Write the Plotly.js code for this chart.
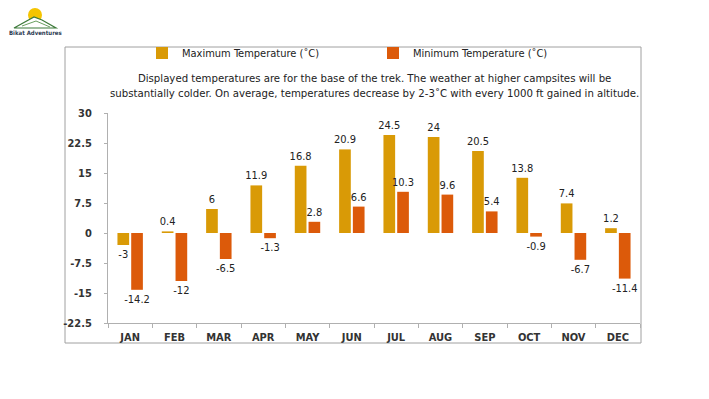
<!DOCTYPE html>
<html>
<head>
<meta charset="utf-8">
<script src="https://cdn.plot.ly/plotly-3.0.1.min.js"></script>
<style>
html,body{margin:0;padding:0;background:#fff;}
#chart{width:709px;height:399px;}
</style>
</head>
<body>
<div id="chart"></div>
<script>
var months = ["JAN","FEB","MAR","APR","MAY","JUN","JUL","AUG","SEP","OCT","NOV","DEC"];
var maxTemp = [-3, 0.4, 6, 11.9, 16.8, 20.9, 24.5, 24, 20.5, 13.8, 7.4, 1.2];
var minTemp = [-14.2, -12, -6.5, -1.3, 2.8, 6.6, 10.3, 9.6, 5.4, -0.9, -6.7, -11.4];
var seriesNames = ["Maximum Temperature (\u02daC)", "Minimum Temperature (\u02daC)"];
var yTicks = [30, 22.5, 15, 7.5, 0, -7.5, -15, -22.5];
var note = "Displayed temperatures are for the base of the trek. The weather at higher campsites will be<br>substantially colder. On average, temperatures decrease by 2-3\u02daC with every 1000 ft gained in altitude.";

var FONT = "'DejaVu Sans Condensed', 'Liberation Sans', sans-serif";

function fmt(v){ return String(v); }

var traces = [
  {type:'bar', name:seriesNames[0], x:months, y:maxTemp, legend:'legend',
   text:maxTemp.map(fmt), textposition:'outside', cliponaxis:false, constraintext:'none',
   textfont:{family:FONT, size:11, color:'#222'},
   marker:{color:'#D99A06', line:{width:0}}, hoverinfo:'x+y'},
  {type:'bar', name:seriesNames[1], x:months, y:minTemp, legend:'legend2',
   text:minTemp.map(fmt), textposition:'outside', cliponaxis:false, constraintext:'none',
   textfont:{family:FONT, size:11, color:'#222'},
   marker:{color:'#DC5A0A', line:{width:0}}, hoverinfo:'x+y'}
];

var legendFont = {family:FONT, size:11, color:'#222'};
var layout = {
  width:709, height:399,
  paper_bgcolor:'#ffffff', plot_bgcolor:'#ffffff',
  margin:{l:108, r:69, t:113, b:76, pad:0},
  font:{family:FONT, size:11, color:'#333'},
  barmode:'group', bargap:0.38, bargroupgap:0.15,
  showlegend:true,
  legend:{orientation:'h', x:(142-108)/532, xanchor:'left', y:1+(323-53-210)/210, yanchor:'middle',
          font:legendFont, bgcolor:'rgba(0,0,0,0)'},
  legend2:{orientation:'h', x:(373-108)/532, xanchor:'left', y:1+(323-53-210)/210, yanchor:'middle',
          font:legendFont, bgcolor:'rgba(0,0,0,0)'},
  xaxis:{type:'category', showgrid:false, zeroline:false, showline:true, linecolor:'#b0b0b0', linewidth:1,
         ticks:'outside', tickson:'boundaries', ticklen:4, tickcolor:'#b0b0b0', ticklabelstandoff:4,
         tickfont:{family:FONT, size:11, color:'#333', weight:'bold'}},
  yaxis:{range:[-22.5, 30], tickvals:yTicks, ticktext:yTicks.map(String), showgrid:false, zeroline:false,
         showline:true, linecolor:'#b0b0b0', linewidth:1, ticks:'outside', ticklen:3, tickcolor:'#b0b0b0',
         ticklabelstandoff:10,
         tickfont:{family:FONT, size:11, color:'#333', weight:'bold'}},
  shapes:[
    {type:'rect', xref:'paper', yref:'paper', x0:-43/532, x1:1+1/532, y0:-20/210, y1:1+66/210,
     line:{color:'#a0a0a0', width:1}, fillcolor:'rgba(0,0,0,0)', layer:'below'},
    {type:'circle', xref:'paper', yref:'paper', x0:(28-108)/532, x1:(42-108)/532, y0:(323-22)/210, y1:(323-8)/210,
     fillcolor:'#F5C400', line:{width:0}},
    {type:'path', xref:'paper', yref:'paper',
     path:'M '+((14-108)/532)+' '+((323-28)/210)+' L '+((34-108)/532)+' '+((323-17)/210)+' L '+((42-108)/532)+' '+((323-20)/210)+' L '+((56-108)/532)+' '+((323-28)/210)+' Z',
     fillcolor:'#ffffff', line:{color:'#3d7a3a', width:1.2}},
    {type:'path', xref:'paper', yref:'paper',
     path:'M '+((22-108)/532)+' '+((323-26)/210)+' L '+((36-108)/532)+' '+((323-21)/210)+' L '+((50-108)/532)+' '+((323-27)/210),
     line:{color:'#6aa060', width:1}}
  ],
  annotations:[
    {text:note, xref:'paper', yref:'paper', x:(374-108)/532, y:(323-86)/210, xanchor:'center', yanchor:'middle',
     showarrow:false, align:'center', font:{family:FONT, size:11.3, color:'#222'}},
    {text:'<b>Bikat Adventures</b>', xref:'paper', yref:'paper', x:(35-108)/532, y:(323-32)/210,
     xanchor:'center', yanchor:'middle', showarrow:false, font:{family:FONT, size:6, color:'#2d3b52'}}
  ]
};

Plotly.newPlot('chart', traces, layout, {displayModeBar:false, staticPlot:true});
</script>
</body>
</html>
